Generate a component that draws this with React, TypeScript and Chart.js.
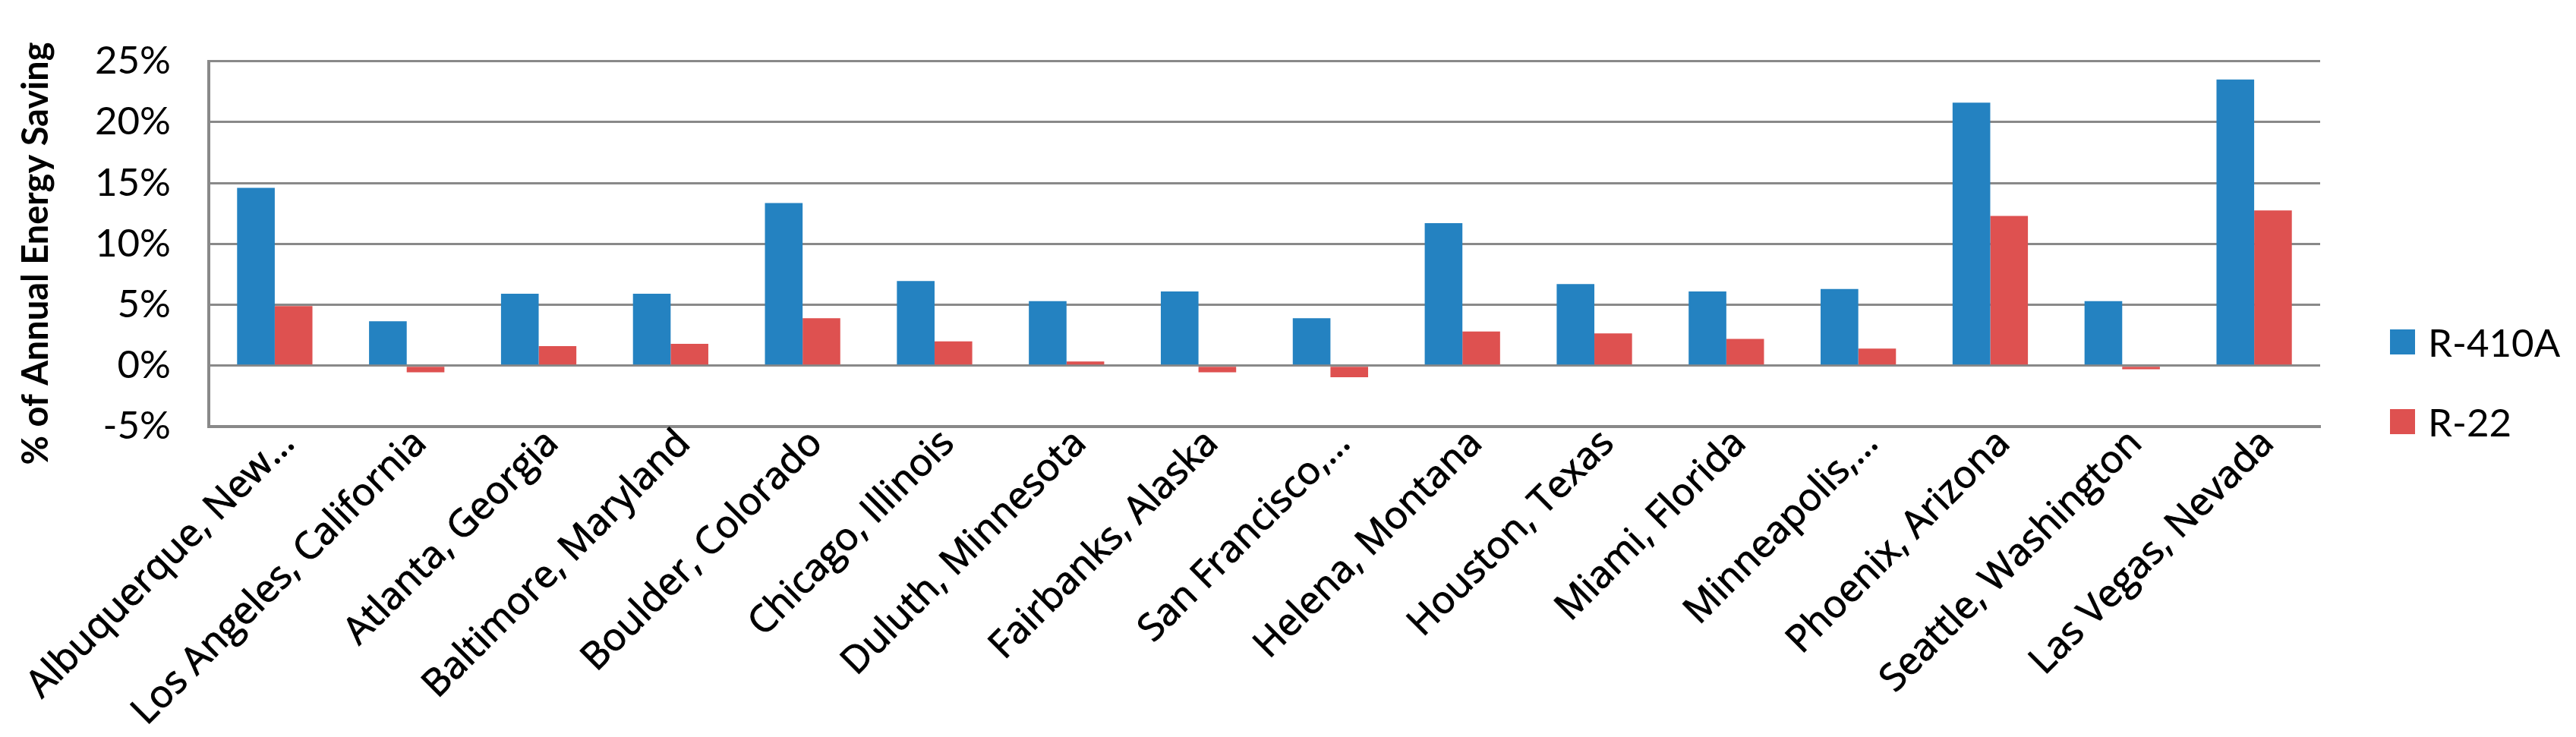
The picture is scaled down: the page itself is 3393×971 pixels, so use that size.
import React, { useEffect, useRef } from "react";
import { Chart, registerables } from "chart.js";

Chart.register(...registerables);

const categories: string[] = [
  "Albuquerque, New…",
  "Los Angeles, California",
  "Atlanta, Georgia",
  "Baltimore, Maryland",
  "Boulder, Colorado",
  "Chicago, Illinois",
  "Duluth, Minnesota",
  "Fairbanks, Alaska",
  "San Francisco,…",
  "Helena, Montana",
  "Houston, Texas",
  "Miami, Florida",
  "Minneapolis,…",
  "Phoenix, Arizona",
  "Seattle, Washington",
  "Las Vegas, Nevada",
];

const r410a: number[] = [14.6, 3.65, 5.9, 5.9, 13.35, 6.95, 5.3, 6.1, 3.9, 11.7, 6.7, 6.1, 6.3, 21.6, 5.3, 23.5];
const r22: number[] = [4.9, -0.55, 1.6, 1.8, 3.9, 2.0, 0.35, -0.55, -0.95, 2.8, 2.65, 2.2, 1.4, 12.3, -0.3, 12.75];

const seriesNames: string[] = ["R-410A", "R-22"];
const seriesColors: string[] = ["#2482C1", "#DE5150"];
const yTitle = "% of Annual Energy Saving";

const W = 3393;
const H = 971;

export default function App() {
  const ref = useRef<HTMLCanvasElement | null>(null);

  useEffect(() => {
    document.body.style.margin = "0";
    const canvas = ref.current;
    if (!canvas) return;

    const overlay = {
      id: "overlay",
      afterDraw(chart: any) {
        const ctx = chart.ctx;
        ctx.save();
        // y axis title
        ctx.fillStyle = "#000";
        ctx.font = "bold 47px Lato";
        ctx.textAlign = "center";
        ctx.textBaseline = "alphabetic";
        ctx.translate(63, 334);
        ctx.rotate(-Math.PI / 2);
        ctx.fillText(yTitle, 0, 0);
        ctx.restore();

        // legend
        ctx.save();
        const boxX = 3148;
        const boxTops = [434, 539];
        chart.data.datasets.forEach((ds: any, i: number) => {
          ctx.fillStyle = ds.backgroundColor;
          ctx.fillRect(boxX, boxTops[i], 33, 33);
          ctx.fillStyle = "#000";
          ctx.font = "51px Lato";
          ctx.textAlign = "left";
          ctx.textBaseline = "alphabetic";
          ctx.fillText(ds.label, 3198, boxTops[i] + 36);
        });
        ctx.restore();
      },
    };

    const chart = new Chart(canvas, {
      type: "bar",
      data: {
        labels: categories,
        datasets: [
          {
            label: seriesNames[0],
            data: r410a,
            backgroundColor: seriesColors[0],
            borderWidth: 0,
            categoryPercentage: 0.571,
            barPercentage: 1,
          },
          {
            label: seriesNames[1],
            data: r22,
            backgroundColor: seriesColors[1],
            borderWidth: 0,
            categoryPercentage: 0.571,
            barPercentage: 1,
          },
        ],
      },
      options: {
        responsive: false,
        animation: false,
        devicePixelRatio: 1,
        layout: { padding: { left: 0, top: 55, right: 337, bottom: 0 } },
        plugins: {
          legend: { display: false },
          tooltip: { enabled: false },
        },
        scales: {
          x: {
            grid: { display: false, drawTicks: false },
            border: { display: true, color: "#898989", width: 4 },
            ticks: {
              autoSkip: false,
              maxRotation: 45,
              minRotation: 45,
              padding: -7,
              labelOffset: 18,
              color: "#000",
              textStrokeColor: "#000",
              textStrokeWidth: 1,
              font: { family: "'Open Sans'", size: 50 },
            },
            afterFit(s: any) {
              s.height = 409;
              s.paddingLeft = 0;
              s.paddingRight = 0;
            },
          },
          y: {
            min: -5,
            max: 25,
            ticks: {
              stepSize: 5,
              padding: 50,
              color: "#000",
              font: { family: "Lato", size: 51 },
              callback: (v: any) => `${v}%`,
            },
            grid: { color: "#898989", lineWidth: 3, drawTicks: false },
            border: { display: true, color: "#898989", width: 4 },
            afterFit(s: any) {
              s.width = 275;
            },
          },
        },
      },
      plugins: [overlay],
    });

    return () => chart.destroy();
  }, []);

  return (
    <div style={{ width: W, height: H, background: "#fff" }}>
      <canvas ref={ref} width={W} height={H} style={{ display: "block" }} />
    </div>
  );
}
